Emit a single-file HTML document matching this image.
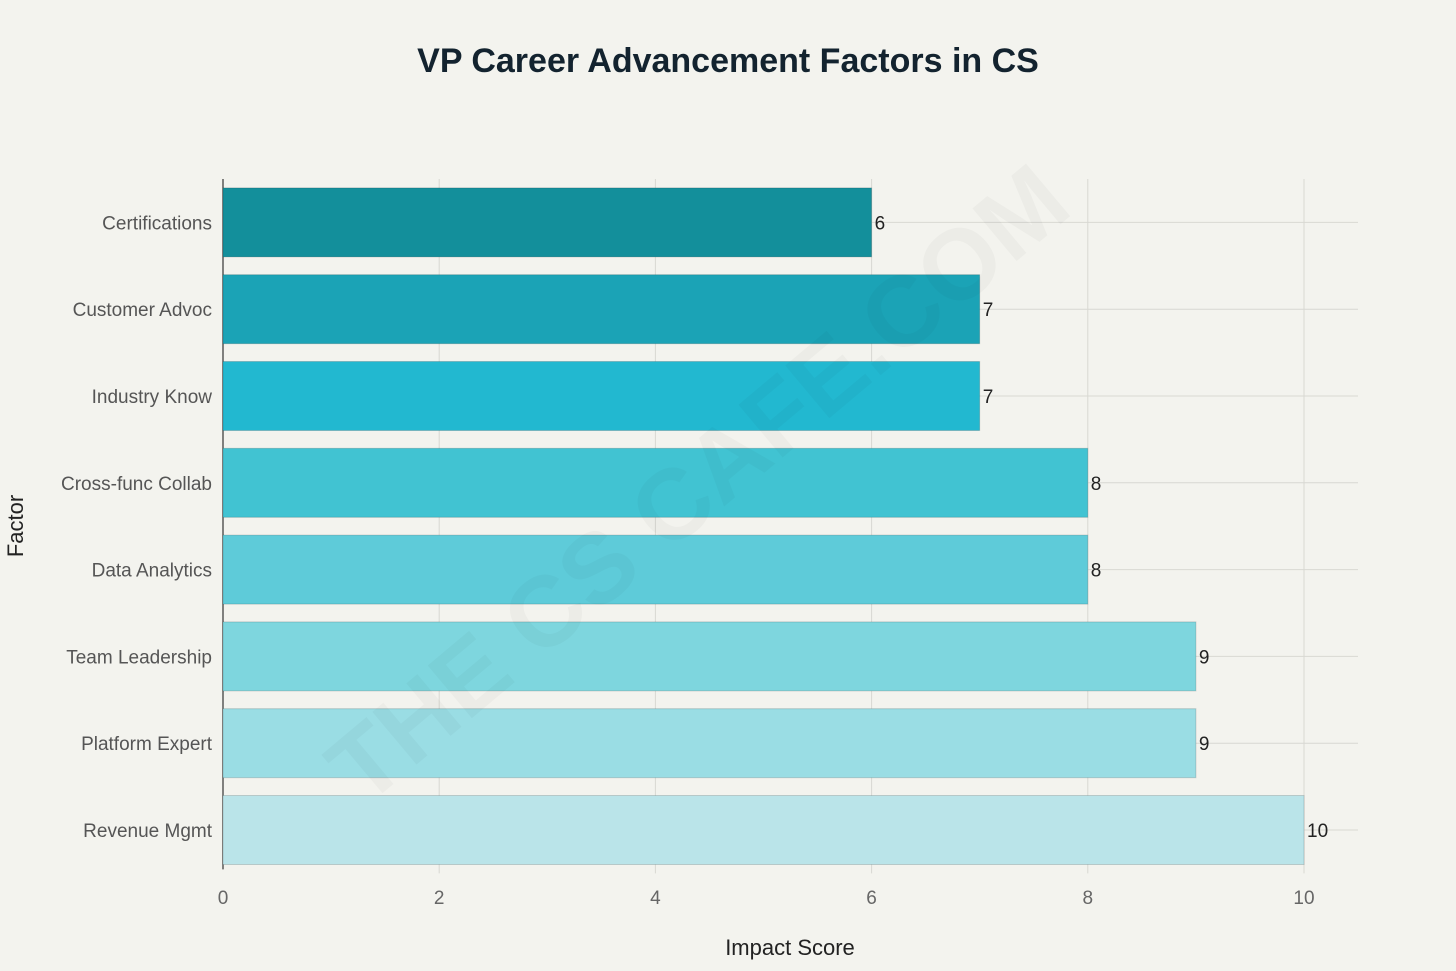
<!DOCTYPE html>
<html><head><meta charset="utf-8"><style>
html,body{margin:0;padding:0;background:#f3f3ee;}
svg{display:block;font-family:"Liberation Sans",sans-serif;}
</style></head><body>
<svg id="chart" width="1456" height="971">
<rect width="1456" height="971" fill="#f3f3ee"/>
<text x="728" y="72" text-anchor="middle" font-size="34" font-weight="bold" fill="#13232f">VP Career Advancement Factors in CS</text>
<g id="grid"></g><g id="bars"></g><g id="labels"></g>
<text x="790" y="955" text-anchor="middle" font-size="22" fill="#222">Impact Score</text>
<text x="23" y="526" text-anchor="middle" font-size="22" fill="#222" transform="rotate(-90 23 526)">Factor</text>
<text x="720" y="510" text-anchor="middle" font-size="100" font-weight="bold" fill="#000" opacity="0.025" transform="rotate(-40 720 510)">THE CS CAFE.COM</text>
</svg>
<script>
const categories=["Certifications","Customer Advoc","Industry Know","Cross-func Collab","Data Analytics","Team Leadership","Platform Expert","Revenue Mgmt"];
const values=[6,7,7,8,8,9,9,10];
const colors=["#138f9b","#1ba3b6","#22b8d0","#41c3d2","#5ecbd9","#7ed6de","#9adde4","#bae4e9"];
const ticks=[0,2,4,6,8,10];
const NS="http://www.w3.org/2000/svg";
const x0=223,pxPer=108.1,plotTop=179,bandH=86.8,barH=69,plotRight=1358;
const xs=v=>x0+v*pxPer;
const yc=i=>plotTop+bandH*(i+0.5);
function mk(t,a,p){const e=document.createElementNS(NS,t);for(const k in a)e.setAttribute(k,a[k]);p.appendChild(e);return e;}
const grid=document.getElementById('grid'),bars=document.getElementById('bars'),labels=document.getElementById('labels');
ticks.forEach(t=>{
 if(t>0){const l=mk('line',{x1:xs(t),x2:xs(t),y1:plotTop,y2:plotTop+bandH*8,stroke:'#d8d8d2','stroke-width':1},grid);
 
 }
 const tx=mk('text',{x:xs(t),y:904,'text-anchor':'middle','font-size':19,fill:'#666'},labels);tx.textContent=t;
 
 
});
categories.forEach((c,i)=>{
 const gl=mk('line',{x1:x0,x2:plotRight,y1:yc(i),y2:yc(i),stroke:'#d8d8d2','stroke-width':1},grid);
 
 
 const r=mk('rect',{x:x0,y:yc(i)-barH/2,width:xs(values[i])-x0,height:barH,fill:colors[i],stroke:'rgba(0,0,0,0.15)','stroke-width':1},bars);
 
 
 const yl=mk('text',{x:212,y:yc(i)+7,'text-anchor':'end','font-size':19,fill:'#555'},labels);yl.textContent=c;
 
 
 const vl=mk('text',{x:xs(values[i])+3,y:yc(i)+7,'font-size':19,fill:'#222'},labels);vl.textContent=values[i];
 
 
});
const ax=mk('line',{x1:x0,x2:x0,y1:plotTop,y2:plotTop+bandH*8-4,stroke:'#333','stroke-width':1.2},grid);


</script>
</body></html>
